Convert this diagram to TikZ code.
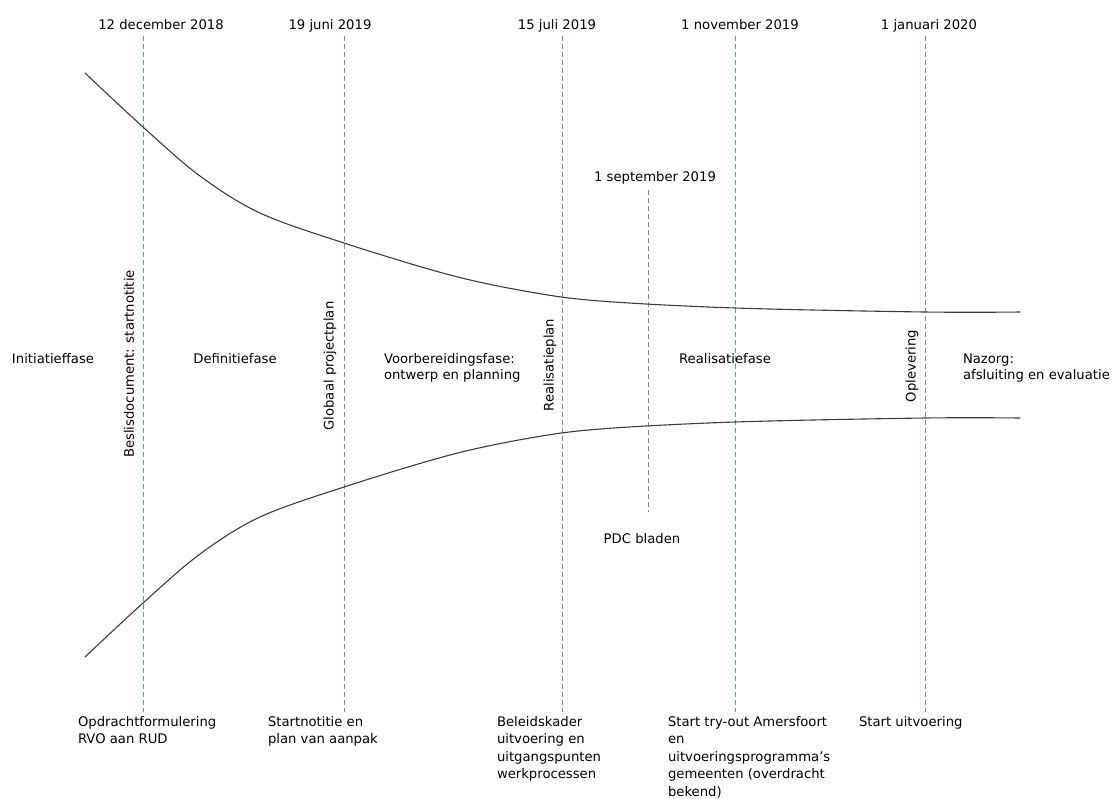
\documentclass[tikz,border=0pt]{standalone}
\usepackage{fontspec}
\setmainfont{DejaVu Sans}
\definecolor{dashblue}{HTML}{6F8CB4}
\definecolor{curvegray}{HTML}{3C3C3C}
\begin{document}
\begin{tikzpicture}[x=1pt,y=-1pt,
  guide/.style={draw=dashblue, line width=0.9pt, dash pattern=on 5pt off 3pt},
  funnel/.style={draw=curvegray, line width=1.1pt, line cap=round},
  lbl/.style={inner sep=0pt, outer sep=0pt, font=\fontsize{13.2}{17.5}\selectfont, text=black},
  single/.style={lbl, anchor=base},
  vlbl/.style={lbl, rotate=90},
  multiA/.style={lbl, align=left, anchor=north west, font=\fontsize{13.2}{16.5}\selectfont},
  multiB/.style={lbl, align=left, anchor=north west, font=\fontsize{13.2}{17.5}\selectfont},
]
\useasboundingbox (0,0) rectangle (1116,798);

% date labels
\node[single] (d1) at (161,29) {12 december 2018};
\node[single] (d2) at (330,29) {19 juni 2019};
\node[single] (d3) at (557,29) {15 juli 2019};
\node[single] (d4) at (740,29) {1 november 2019};
\node[single] (d5) at (929,29) {1 januari 2020};
\node[single] (d6) at (655,181) {1 september 2019};

% guide line end points
\coordinate (t1) at (143,36);  \coordinate (b1) at (143,712);
\coordinate (t2) at (344,36);  \coordinate (b2) at (344,712);
\coordinate (t3) at (562,36);  \coordinate (b3) at (562,712);
\coordinate (t4) at (735,36);  \coordinate (b4) at (735,712);
\coordinate (t5) at (925,36);  \coordinate (b5) at (925,712);
\coordinate (t6) at (648,190); \coordinate (b6) at (648,512);

\draw[guide] (t1) -- (b1);
\draw[guide] (t2) -- (b2);
\draw[guide] (t3) -- (b3);
\draw[guide] (t4) -- (b4);
\draw[guide] (t5) -- (b5);
\draw[guide] (t6) -- (b6);

% funnel curves
\draw[funnel] plot[smooth, tension=0.55] coordinates {(85,73) (143,127) (200,176) (260,213) (344,243) (450,275) (530,292) (600,301) (735,308) (925,312) (1020,312)};
\draw[funnel] plot[smooth, tension=0.55] coordinates {(85,657) (143,603) (200,554) (260,517) (344,487) (450,455) (530,438) (600,429) (735,422) (925,418) (1020,418)};

% milestones (rotated)
\node[vlbl] (m1) at (129,364) {Beslisdocument: startnotitie};
\node[vlbl] (m2) at (330,366) {Globaal projectplan};
\node[vlbl] (m3) at (550,365) {Realisatieplan};
\node[vlbl] (m4) at (912,366) {Oplevering};

% phases
\node[single] (p1) at (53,363) {Initiatieffase};
\node[single] (p2) at (235,363) {Definitiefase};
\node[multiA] (p3) at (384,351.45) {\strut Voorbereidingsfase:\\ontwerp en planning};
\node[single] (p4) at (725,363) {Realisatiefase};
\node[multiA] (p5) at (963,351.45) {\strut Nazorg:\\afsluiting en evaluatie};

% PDC
\node[single] (pdc) at (642,543) {PDC bladen};

% bottom labels
\node[multiB] (q1) at (78,713.75) {\strut Opdrachtformulering\\RVO aan RUD};
\node[multiB] (q2) at (268,713.75) {\strut Startnotitie en\\plan van aanpak};
\node[multiB] (q3) at (497,713.75) {\strut Beleidskader\\uitvoering en\\uitgangspunten\\werkprocessen};
\node[multiB] (q4) at (668,713.75) {\strut Start try-out Amersfoort\\en\\uitvoeringsprogramma’s\\gemeenten (overdracht\\bekend)};
\node[multiB] (q5) at (859,713.75) {\strut Start uitvoering};
\end{tikzpicture}
\end{document}
